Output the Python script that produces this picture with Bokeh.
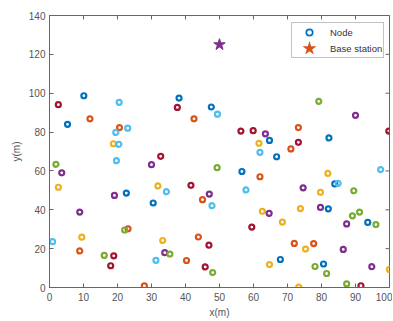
import math
from bokeh.plotting import figure
from bokeh.models import Range1d, Legend, LegendItem, FixedTicker
from bokeh.embed import file_html
from bokeh.resources import INLINE

# ---- data ----
blue_x = [10.1, 5.3, 38.1, 47.6, 64.7, 66.8, 82.2, 22.6, 30.5, 56.6, 83.9, 82.0, 93.6, 67.9, 80.6]
blue_y = [98.7, 84.0, 97.5, 92.9, 75.7, 67.3, 77.0, 48.6, 43.5, 59.7, 53.3, 40.5, 33.5, 14.4, 12.1]

orange_x = [11.9, 20.6, 42.5, 73.2, 71.0, 8.9, 23.1, 27.9, 40.3, 45.0, 43.8, 61.9, 72.0, 77.7]
orange_y = [86.8, 82.3, 86.8, 82.3, 71.3, 18.8, 30.2, 0.8, 13.9, 45.2, 26.0, 57.0, 22.7, 22.6]

yellow_x = [18.8, 61.6, 2.6, 9.5, 31.9, 33.3, 81.9, 79.7, 62.6, 73.8, 68.5, 75.3, 64.7, 100.0, 73.3]
yellow_y = [74.0, 74.2, 51.6, 25.9, 52.3, 24.2, 58.7, 49.0, 39.2, 40.6, 33.7, 19.8, 11.8, 9.3, 0.2]

purple_x = [90.0, 63.5, 3.6, 8.9, 19.1, 30.0, 33.9, 47.0, 74.6, 64.6, 79.7, 87.4, 86.4, 94.8]
purple_y = [88.6, 79.1, 59.0, 38.8, 47.4, 63.2, 17.9, 48.1, 51.3, 38.2, 41.2, 32.7, 19.6, 10.7]

green_x = [79.2, 1.9, 16.1, 22.1, 35.4, 49.3, 89.5, 89.1, 91.2, 96.0, 48.0, 78.1, 81.5, 87.4]
green_y = [95.8, 63.4, 16.5, 29.6, 17.2, 61.7, 49.8, 36.9, 38.8, 32.4, 7.7, 10.8, 7.2, 1.9]

lightblue_x = [20.5, 23.0, 19.5, 20.4, 19.7, 49.4, 61.9, 0.9, 34.4, 31.3, 57.8, 47.8, 84.9, 97.4]
lightblue_y = [95.3, 82.0, 79.8, 73.7, 65.3, 89.2, 69.6, 23.6, 49.3, 14.0, 50.2, 42.1, 53.6, 60.7]

darkred_x = [2.6, 32.7, 37.6, 56.3, 59.9, 73.2, 99.8, 18.9, 18.0, 41.6, 59.5, 46.9, 45.8, 91.6]
darkred_y = [94.1, 67.5, 92.7, 80.5, 80.7, 74.7, 80.5, 16.3, 11.2, 52.6, 31.1, 21.8, 10.6, 0.9]

base_x = [50.0]
base_y = [125.0]

x_ticks = [0, 10, 20, 30, 40, 50, 60, 70, 80, 90, 100]
y_ticks = [0, 20, 40, 60, 80, 100, 120, 140]
x_lim = (0, 100)
y_lim = (0, 140)

series = [
    (blue_x, blue_y, "#0072BD"),
    (orange_x, orange_y, "#D95319"),
    (yellow_x, yellow_y, "#EDB120"),
    (purple_x, purple_y, "#7E2F8E"),
    (green_x, green_y, "#77AC30"),
    (lightblue_x, lightblue_y, "#4DBEEE"),
    (darkred_x, darkred_y, "#A2142F"),
]

FONT = "Liberation Sans"
AX = "#666666"
TXT = "#555555"

p = figure(width=392, height=320, output_backend="svg", toolbar_location=None,
           x_range=Range1d(*x_lim), y_range=Range1d(*y_lim),
           min_border_left=49, min_border_right=3, min_border_top=15, min_border_bottom=32,
           background_fill_color="white", border_fill_color="white")
p.grid.visible = False
p.outline_line_color = AX
p.outline_line_width = 1

for ax, ticks, lab in [(p.xaxis[0], x_ticks, "x(m)"), (p.yaxis[0], y_ticks, "y(m)")]:
    ax.ticker = FixedTicker(ticks=ticks)
    ax.axis_label = lab
    ax.axis_label_text_font = FONT
    ax.axis_label_text_font_size = "10px"
    ax.axis_label_text_font_style = "normal"
    ax.axis_label_text_color = TXT
    ax.major_label_text_font = FONT
    ax.major_label_text_font_size = "10px"
    ax.major_label_text_color = TXT
    ax.axis_line_color = AX
    ax.major_tick_line_color = AX
    ax.major_tick_in = 4
    ax.major_tick_out = 0
    ax.minor_tick_in = 0
    ax.minor_tick_out = 0
p.xaxis[0].major_label_standoff = 5
p.xaxis[0].axis_label_standoff = 3
p.yaxis[0].major_label_standoff = 4
p.yaxis[0].axis_label_standoff = 4

# inward ticks on the top and right edges of the box (clipped half-dashes)
p.scatter(x=x_ticks, y=[y_lim[1]] * len(x_ticks), marker="dash", angle=math.pi / 2,
          size=8, line_color=AX, line_width=1)
p.scatter(x=[x_lim[1]] * len(y_ticks), y=y_ticks, marker="dash",
          size=8, line_color=AX, line_width=1)

for xs, ys, c in series:
    p.scatter(x=xs, y=ys, marker="circle", size=5, fill_color=None,
              line_color=c, line_width=2.2)

p.scatter(x=base_x, y=base_y, marker="star", size=12, fill_color="#7E2F8E",
          line_color="#7E2F8E", line_width=1)

nan = float("nan")
r_node = p.scatter(x=[nan], y=[nan], marker="circle", size=5, fill_color=None,
                   line_color="#0072BD", line_width=1.7)
r_bs = p.scatter(x=[nan], y=[nan], marker="star", size=12, fill_color="#D95319",
                 line_color="#D95319", line_width=2.6, line_join="miter")

legend = Legend(items=[LegendItem(label="Node", renderers=[r_node]),
                       LegendItem(label="Base station", renderers=[r_bs])],
                location=(242, 229))
legend.label_text_font = FONT
legend.label_text_font_size = "9.5px"
legend.label_text_color = "#333333"
legend.border_line_color = "#888888"
legend.border_line_width = 1
legend.background_fill_color = "white"
legend.background_fill_alpha = 1
legend.padding = 1
legend.margin = 0
legend.spacing = -3
legend.glyph_width = 32
legend.glyph_height = 16
legend.label_height = 11
legend.label_standoff = 5
p.add_layout(legend, "center")

open("out.html", "w").write(file_html(p, INLINE))
